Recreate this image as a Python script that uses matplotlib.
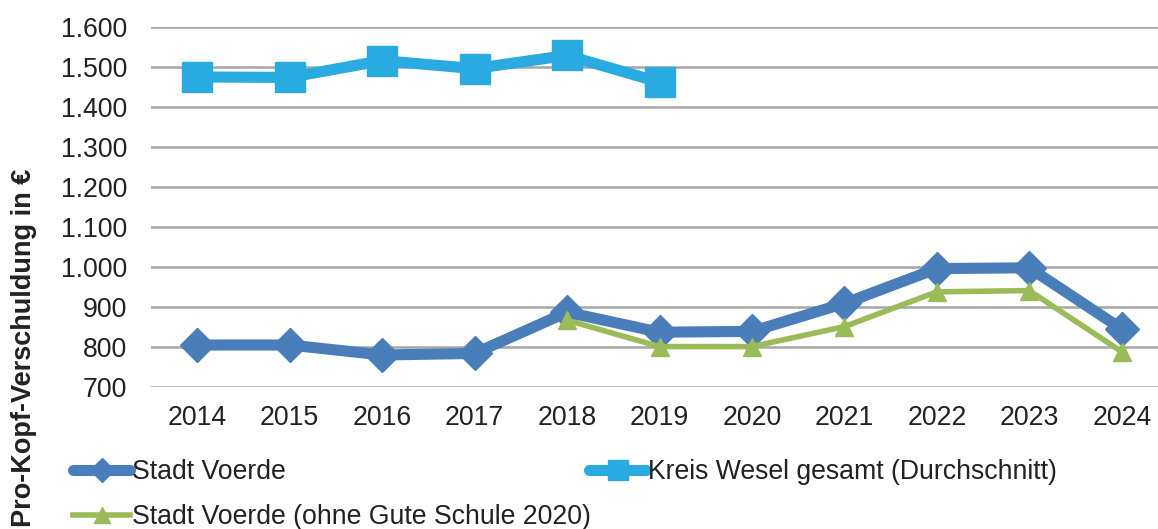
import matplotlib
matplotlib.use("Agg")
import matplotlib.pyplot as plt
from matplotlib.lines import Line2D

plt.rcParams['font.family'] = ['Liberation Sans', 'DejaVu Sans']

years = ['2014', '2015', '2016', '2017', '2018', '2019', '2020', '2021', '2022', '2023', '2024']
voerde = [805, 805, 780, 784, 887, 837, 839, 909, 996, 998, 845]
voerde_ohne = [None, None, None, None, 867, 801, 801, 851, 938, 941, 788]
kreis_wesel = [1475, 1474, 1516, 1496, 1529, 1462]
yticks = [700, 800, 900, 1000, 1100, 1200, 1300, 1400, 1500, 1600]

W, H = 1158, 529
fig = plt.figure(figsize=(W / 100, H / 100), dpi=100)
# plot area in pixels: x 151..1168, y 27..387
ax = fig.add_axes([151 / W, (H - 387) / H, (1168 - 151) / W, 360 / H])

c_blue = '#4A7EBB'
c_light = '#29ABE2'
c_green = '#9BBB59'

x = list(range(len(years)))
ax.plot(x, voerde, color=c_blue, lw=8, marker='D', ms=17,
        solid_joinstyle='round', zorder=3, clip_on=False)
xo = [i for i, v in zip(x, voerde_ohne) if v is not None]
yo = [v for v in voerde_ohne if v is not None]
ax.plot(xo, yo, color=c_green, lw=4, marker='^', ms=13, zorder=4, clip_on=False)
ax.plot(x[:len(kreis_wesel)], kreis_wesel, color=c_light, lw=8,
        marker='s', ms=21, zorder=3, clip_on=False)

ax.set_xlim(-0.5, len(years) - 0.5)
ax.set_ylim(700, 1600)
ax.set_yticks(yticks)
ax.set_yticklabels([f'{v:,}'.replace(',', '.') for v in yticks])
ax.set_xticks(x)
ax.set_xticklabels(years)
ax.yaxis.grid(True, color='#A6A6A6', lw=1.8)
ax.set_axisbelow(True)
for s in ax.spines.values():
    s.set_visible(False)
ax.tick_params(axis='both', length=0, labelsize=19.2, colors='#222222')
ax.tick_params(axis='y', pad=17)
ax.tick_params(axis='x', pad=13)

fig.text(24 / W, 1 - 348 / H, 'Pro-Kopf-Verschuldung in €', rotation=90,
         ha='center', va='center', fontsize=19.5, fontweight='bold',
         color='#222222')

# smaller markers in the legend
h_v = Line2D([], [], color=c_blue, lw=8, marker='D', ms=12, solid_capstyle='round')
h_g = Line2D([], [], color=c_green, lw=4, marker='^', ms=11)
h_k = Line2D([], [], color=c_light, lw=8, marker='s', ms=14, solid_capstyle='round')

leg_kw = dict(frameon=False, fontsize=19.2, handlelength=2.15,
              handletextpad=0.05, labelspacing=0.72, borderpad=0,
              borderaxespad=0, labelcolor='#222222')
fig.legend([h_v, h_g], ['Stadt Voerde', 'Stadt Voerde (ohne Gute Schule 2020)'],
           loc='upper left', bbox_to_anchor=(73 / W, 1 - 459 / H), **leg_kw)
fig.legend([h_k], ['Kreis Wesel gesamt (Durchschnitt)'],
           loc='upper left', bbox_to_anchor=(589 / W, 1 - 459 / H), **leg_kw)

fig.savefig('out.png', dpi=100)
